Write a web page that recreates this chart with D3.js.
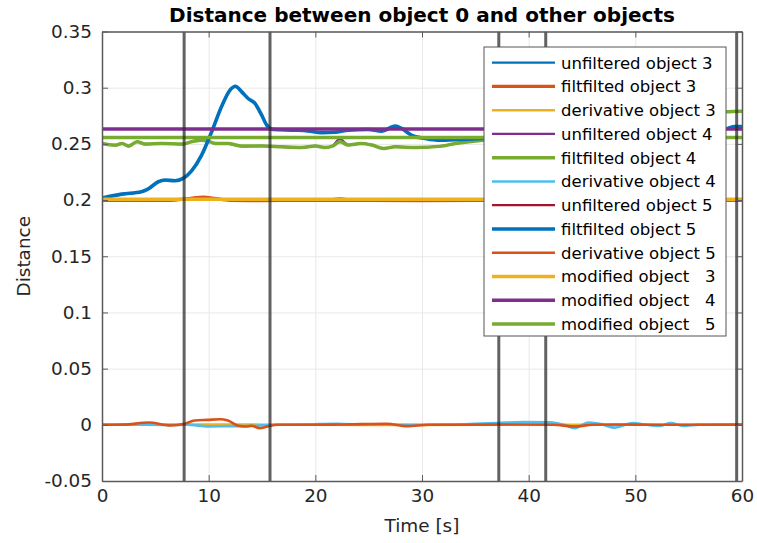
<!DOCTYPE html>
<html>
<head>
<meta charset="utf-8">
<script src="https://cdn.jsdelivr.net/npm/d3@7"></script>
<style>
  html, body { margin: 0; padding: 0; background: #fff; }
  svg text { font-family: "DejaVu Sans", "Liberation Sans", sans-serif; }
</style>
</head>
<body>
<svg id="chart" width="757" height="543"></svg>
<script>
// ---------- DATA ----------
const xTicks = [0, 10, 20, 30, 40, 50, 60];
const xTickLabels = ["0", "10", "20", "30", "40", "50", "60"];
const yTicks = [-0.05, 0, 0.05, 0.1, 0.15, 0.2, 0.25, 0.3, 0.35];
const yTickLabels = ["-0.05", "0", "0.05", "0.1", "0.15", "0.2", "0.25", "0.3", "0.35"];

const legendNames = [
  "unfiltered object 3", "filtfilted object 3", "derivative object 3",
  "unfiltered object 4", "filtfilted object 4", "derivative object 4",
  "unfiltered object 5", "filtfilted object 5", "derivative object 5",
  "modified object   3", "modified object   4", "modified object   5"
];

// event markers (vertical lines), seconds
const eventTimes = [7.7, 15.75, 37.2, 41.6, 59.5];

// unfiltered object 3
const tU3 = [0, 3, 6, 9, 10, 12, 15, 18, 21, 22.3, 23.5, 27, 30, 34, 38, 42, 46, 50, 54, 58, 60];
const vU3 = [0.2000, 0.2003, 0.1998, 0.2005, 0.2012, 0.2004, 0.1999, 0.2002, 0.2000, 0.2016, 0.2000, 0.2003, 0.1998, 0.2001, 0.1999, 0.2002, 0.2000, 0.2001, 0.1999, 0.2002, 0.2000];
// filtfilted object 3
const tF3 = [0, 3, 6, 8.5, 9.5, 10.5, 12, 15, 20, 25, 30, 35, 40, 45, 50, 55, 60];
const vF3 = [0.1997, 0.1998, 0.1997, 0.2018, 0.2026, 0.2015, 0.1998, 0.1996, 0.1998, 0.1997, 0.1996, 0.1997, 0.1998, 0.1997, 0.1996, 0.1997, 0.1998];
// derivative object 3
const tD3 = [0, 10, 20, 30, 40, 50, 60];
const vD3 = [0.0000, 0.0002, 0.0000, -0.0001, 0.0001, 0.0000, 0.0000];

// unfiltered object 4
const tU4 = [0, 1.25, 1.87, 2.5, 3.28, 4.06, 5.6, 7.5, 8.4, 9.34, 9.97, 10.6, 11.8, 13.1, 15, 16.8, 18.7, 20, 20.9, 21.6, 22.3, 23.1, 24.3, 25.3, 26.4, 27.5, 29.4, 31.9, 33.1, 34.4, 35.7, 40, 45, 50, 55, 58.5, 60];
const vU4 = [0.2506, 0.2487, 0.2506, 0.2478, 0.2521, 0.2496, 0.2506, 0.2496, 0.2521, 0.2535, 0.2522, 0.2506, 0.2502, 0.2478, 0.2482, 0.2472, 0.2466, 0.2482, 0.2466, 0.2482, 0.2545, 0.2488, 0.2506, 0.2488, 0.2457, 0.2476, 0.2466, 0.2482, 0.2502, 0.2521, 0.2531, 0.2572, 0.2618, 0.2682, 0.2738, 0.2787, 0.2788];
// filtfilted object 4
const tF4 = [0, 1.25, 1.87, 2.5, 3.28, 4.06, 5.6, 7.5, 8.4, 9.34, 9.97, 10.6, 11.8, 13.1, 15, 16.8, 18.7, 20, 20.9, 21.6, 22.3, 23.1, 24.3, 25.3, 26.4, 27.5, 29.4, 31.9, 33.1, 34.4, 35.7, 40, 45, 50, 55, 58.5, 60];
const vF4 = [0.2504, 0.2489, 0.2504, 0.2480, 0.2519, 0.2498, 0.2504, 0.2498, 0.2519, 0.2533, 0.2524, 0.2504, 0.2504, 0.2480, 0.2480, 0.2474, 0.2468, 0.2480, 0.2468, 0.2480, 0.2519, 0.2490, 0.2504, 0.2490, 0.2459, 0.2474, 0.2468, 0.2480, 0.2504, 0.2519, 0.2533, 0.2570, 0.2620, 0.2680, 0.2740, 0.2785, 0.2790];
// derivative object 4
const tD4 = [0, 3, 6, 8, 10, 12, 14, 16, 19, 22, 25, 30, 34, 37, 39.5, 42, 43.3, 44.3, 45.6, 46.8, 48, 49.8, 51, 52.3, 53.3, 54.5, 56, 58, 60];
const vD4 = [0.0000, 0.0003, -0.0002, 0.0000, -0.0014, -0.0012, -0.0010, 0.0000, 0.0002, 0.0010, 0.0000, 0.0001, 0.0005, 0.0015, 0.0025, 0.0022, 0.0000, -0.0030, 0.0020, 0.0006, -0.0025, 0.0015, 0.0000, -0.0010, 0.0015, -0.0010, 0.0002, 0.0000, 0.0000];

// unfiltered object 5
const tU5 = [0, 1.84, 3.7, 4.34, 5.28, 5.9, 6.84, 7.6, 8.4, 9.34, 10.28, 11.2, 12.0, 12.5, 13.1, 13.7, 14.34, 14.97, 15.44, 16.06, 18.1, 19.3, 20.6, 21.8, 23.1, 24.97, 26.2, 27.5, 28.1, 29.0, 30.3, 31.5, 33.7, 35.7, 40, 45, 50, 55, 58.5, 59.3, 60];
const vU5 = [0.2018, 0.2050, 0.2076, 0.2098, 0.2165, 0.2176, 0.2174, 0.2190, 0.2262, 0.2398, 0.2609, 0.2828, 0.2980, 0.3010, 0.2965, 0.2902, 0.2862, 0.2754, 0.2669, 0.2626, 0.2624, 0.2614, 0.2602, 0.2602, 0.2624, 0.2626, 0.2615, 0.2656, 0.2639, 0.2576, 0.2550, 0.2531, 0.2542, 0.2546, 0.2562, 0.2578, 0.2602, 0.2618, 0.2637, 0.2653, 0.2656];
// filtfilted object 5
const tF5 = [0, 1.84, 3.7, 4.34, 5.28, 5.9, 6.84, 7.6, 8.4, 9.34, 10.28, 11.2, 12.0, 12.5, 13.1, 13.7, 14.34, 14.97, 15.44, 16.06, 18.1, 19.3, 20.6, 21.8, 23.1, 24.97, 26.2, 27.5, 28.1, 29.0, 30.3, 31.5, 33.7, 35.7, 40, 45, 50, 55, 58.5, 59.3, 60];
const vF5 = [0.2018, 0.2053, 0.2074, 0.2100, 0.2163, 0.2178, 0.2172, 0.2193, 0.2260, 0.2400, 0.2607, 0.2830, 0.2978, 0.3013, 0.2963, 0.2904, 0.2860, 0.2756, 0.2667, 0.2628, 0.2622, 0.2616, 0.2600, 0.2604, 0.2622, 0.2628, 0.2613, 0.2658, 0.2637, 0.2578, 0.2548, 0.2533, 0.2540, 0.2548, 0.2560, 0.2580, 0.2600, 0.2620, 0.2635, 0.2655, 0.2655];
// derivative object 5
const tD5 = [0, 2, 4.4, 6.4, 7.74, 8.7, 9.9, 11.06, 11.8, 12.8, 13.4, 14.0, 14.8, 15.5, 16.5, 20, 22.8, 26.7, 28.6, 30.6, 34, 38.4, 42.3, 44.3, 46, 48.2, 52.1, 56, 60];
const vD5 = [0.0000, 0.0002, 0.0020, -0.0006, 0.0009, 0.0038, 0.0044, 0.0050, 0.0038, -0.0009, -0.0015, -0.0009, -0.0030, -0.0015, 0.0000, 0.0001, 0.0003, 0.0009, -0.0012, 0.0000, 0.0001, 0.0003, 0.0000, -0.0015, 0.0001, 0.0003, 0.0000, 0.0001, 0.0002];

// modified objects
const tM = [0, 60];
const vM3 = [0.2008, 0.2008];
const vM4 = [0.2632, 0.2632];
const vM5 = [0.2556, 0.2556];

const seriesT = [tU3, tF3, tD3, tU4, tF4, tD4, tU5, tF5, tD5, tM, tM, tM];
const seriesV = [vU3, vF3, vD3, vU4, vF4, vD4, vU5, vF5, vD5, vM3, vM4, vM5];

// ---------- STYLE ----------
const colors = ["#0072BD", "#D95319", "#EDB120", "#7E2F8E", "#77AC30", "#4DBEEE", "#A2142F",
                "#0072BD", "#D95319", "#EDB120", "#7E2F8E", "#77AC30"];
const widths = [2.2, 3.3, 2.6, 2.2, 3.5, 2.6, 2.2, 3.6, 2.6, 3.5, 3.5, 3.5];

const W = 757, H = 543;
const m = { left: 102, right: 15, top: 31.5, bottom: 62 };
const pw = W - m.left - m.right;
const ph = H - m.top - m.bottom;

const svg = d3.select("#chart");
const g = svg.append("g").attr("transform", `translate(${m.left},${m.top})`);

const x = d3.scaleLinear().domain([0, 60]).range([0, pw]);
const y = d3.scaleLinear().domain([-0.05, 0.35]).range([ph, 0]);

// grid
g.append("g").attr("transform", `translate(0,${ph})`)
  .call(d3.axisBottom(x).tickValues(xTicks).tickSize(-ph).tickFormat(""))
  .call(s => s.select(".domain").remove())
  .call(s => s.selectAll("line").attr("stroke", "#e8e8e8").attr("stroke-width", 1));
g.append("g")
  .call(d3.axisLeft(y).tickValues(yTicks).tickSize(-pw).tickFormat(""))
  .call(s => s.select(".domain").remove())
  .call(s => s.selectAll("line").attr("stroke", "#e8e8e8").attr("stroke-width", 1));

// clip
svg.append("defs").append("clipPath").attr("id", "clip")
  .append("rect").attr("width", pw).attr("height", ph);

const plot = g.append("g").attr("clip-path", "url(#clip)");
const line = d3.line().curve(d3.curveMonotoneX).x(d => x(d[0])).y(d => y(d[1]));

seriesT.forEach((ts, i) => {
  const pts = ts.map((t, k) => [t, seriesV[i][k]]);
  plot.append("path").datum(pts)
    .attr("d", line)
    .attr("fill", "none")
    .attr("stroke", colors[i])
    .attr("stroke-width", widths[i])
    .attr("stroke-linejoin", "round")
    .attr("stroke-linecap", "round");
});

// event lines
plot.selectAll(".ev").data(eventTimes).enter().append("line")
  .attr("x1", d => x(d)).attr("x2", d => x(d))
  .attr("y1", 0).attr("y2", ph)
  .attr("stroke", "rgba(38,38,38,0.72)")
  .attr("stroke-width", 3);

// axes
const axCol = "#5a5a5a";
const styleAxis = s => {
  s.select(".domain").attr("stroke", axCol).attr("stroke-width", 1.5);
  s.selectAll(".tick line").attr("stroke", axCol).attr("stroke-width", 1);
  s.selectAll(".tick text").attr("fill", "#262626").style("font-size", "18.4px");
};
g.append("g").attr("transform", `translate(0,${ph})`)
  .call(d3.axisBottom(x).tickValues(xTicks).tickSize(-6).tickSizeOuter(0).tickPadding(8)
    .tickFormat((d, i) => xTickLabels[i]))
  .call(styleAxis);
g.append("g")
  .call(d3.axisLeft(y).tickValues(yTicks).tickSize(-6).tickSizeOuter(0).tickPadding(10)
    .tickFormat((d, i) => yTickLabels[i]))
  .call(styleAxis);
g.append("g")
  .call(d3.axisTop(x).tickValues(xTicks).tickSize(-6).tickSizeOuter(0).tickFormat(""))
  .call(styleAxis);
g.append("g").attr("transform", `translate(${pw},0)`)
  .call(d3.axisRight(y).tickValues(yTicks).tickSize(-6).tickSizeOuter(0).tickFormat(""))
  .call(styleAxis);

// title & labels
svg.append("text").attr("x", m.left + pw / 2).attr("y", 22)
  .attr("text-anchor", "middle").style("font-size", "20px").style("font-weight", "bold")
  .attr("fill", "#000").text("Distance between object 0 and other objects");
svg.append("text").attr("x", m.left + pw / 2).attr("y", 532)
  .attr("text-anchor", "middle").style("font-size", "18.4px").attr("fill", "#262626")
  .text("Time [s]");
svg.append("text").attr("transform", `translate(30,${m.top + ph / 2}) rotate(-90)`)
  .attr("text-anchor", "middle").style("font-size", "18.4px").attr("fill", "#262626")
  .text("Distance");

// legend
const lg = svg.append("g").attr("transform", "translate(484,47)");
lg.append("rect").attr("width", 242).attr("height", 289)
  .attr("fill", "#fff").attr("stroke", "#555").attr("stroke-width", 1);
legendNames.forEach((name, i) => {
  const cy = 15.7 + i * 23.75;
  lg.append("line").attr("x1", 8).attr("x2", 71).attr("y1", cy).attr("y2", cy)
    .attr("stroke", colors[i]).attr("stroke-width", widths[i]);
  lg.append("text").attr("x", 77).attr("y", cy).attr("dy", "0.36em")
    .attr("xml:space", "preserve").style("white-space", "pre")
    .style("font-size", "16.5px").attr("fill", "#000").text(name);
});
</script>
</body>
</html>
